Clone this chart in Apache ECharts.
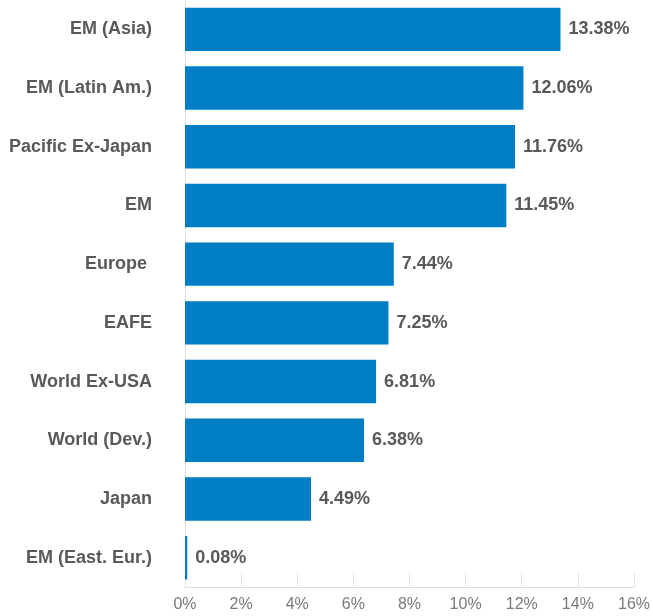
<!DOCTYPE html>
<html>
<head>
<meta charset="utf-8">
<script src="https://cdn.jsdelivr.net/npm/echarts@6/dist/echarts.min.js"></script>
<style>html,body{margin:0;padding:0;background:#fff;}#c{width:653px;height:616px;}</style>
</head>
<body>
<div id="c"></div>
<script>
const categories = ['EM (Asia)', 'EM (Latin Am.)', 'Pacific Ex-Japan', 'EM', 'Europe ', 'EAFE', 'World Ex-USA', 'World (Dev.)', 'Japan', 'EM (East. Eur.)'];
const values = [13.38, 12.06, 11.76, 11.45, 7.44, 7.25, 6.81, 6.38, 4.49, 0.08];
const xTicks = [0, 2, 4, 6, 8, 10, 12, 14, 16];

const chart = echarts.init(document.getElementById('c'), null, {renderer: 'canvas'});
chart.setOption({
  animation: false,
  backgroundColor: '#ffffff',
  grid: {left: 185, right: 16, top: -4, bottom: 29, containLabel: false},
  xAxis: {
    type: 'value',
    min: xTicks[0],
    max: xTicks[xTicks.length - 1],
    interval: 2,
    axisLine: {show: true, lineStyle: {color: '#e3e0db', width: 1}},
    axisTick: {show: true, inside: true, length: 14, lineStyle: {color: '#e8e5e0'}},
    splitLine: {show: false},
    axisLabel: {
      formatter: v => v + '%',
      color: '#7a7a7a',
      fontFamily: 'Liberation Sans, Arial, sans-serif',
      fontSize: 16,
      margin: 10
    }
  },
  yAxis: {
    type: 'category',
    data: categories,
    inverse: true,
    axisLine: {show: true, lineStyle: {color: '#e3e0db', width: 1}},
    axisTick: {show: false},
    axisLabel: {
      color: '#595959',
      fontWeight: 'bold',
      fontFamily: 'Liberation Sans, Arial, sans-serif',
      fontSize: 18,
      margin: 33
    }
  },
  series: [{
    type: 'bar',
    data: values,
    barWidth: '74%',
    itemStyle: {color: '#007dc3'},
    label: {
      show: true,
      position: 'right',
      distance: 8,
      formatter: p => p.value.toFixed(2) + '%',
      color: '#595959',
      fontWeight: 'bold',
      fontFamily: 'Liberation Sans, Arial, sans-serif',
      fontSize: 18
    }
  }]
});
</script>
</body>
</html>
